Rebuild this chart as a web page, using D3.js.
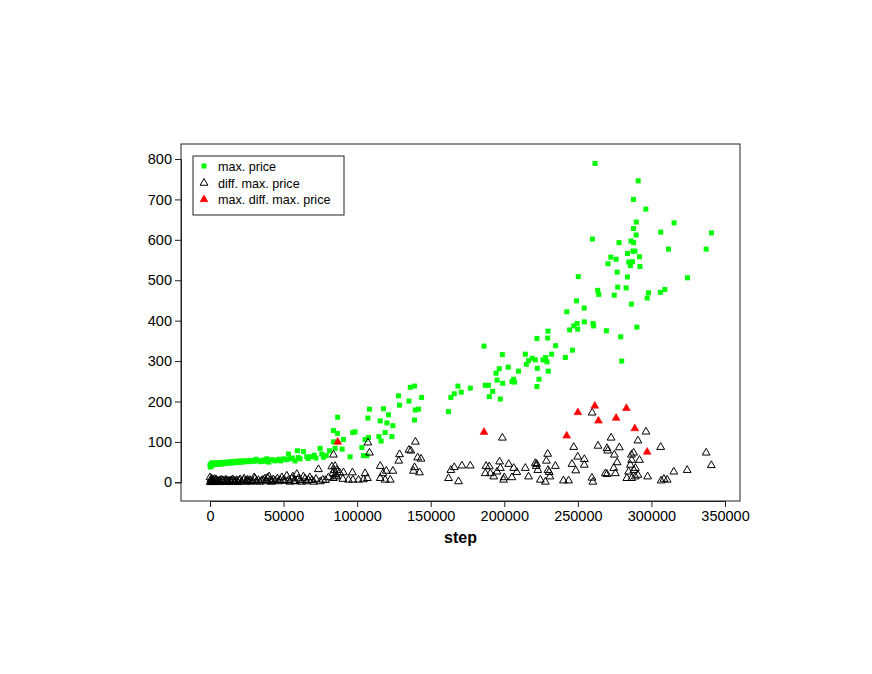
<!DOCTYPE html>
<html><head><meta charset="utf-8">
<script src="https://cdn.jsdelivr.net/npm/d3@7"></script>
<style>body{margin:0;background:#fff;} svg{display:block;}</style>
</head><body>
<svg id="c" width="872" height="674"></svg>
<script>
const xTicks = [0,50000,100000,150000,200000,250000,300000,350000];
const yTicks = [0,100,200,300,400,500,600,700,800];
const legendLabels = ["max. price","diff. max. price","max. diff. max. price"];

const maxPriceStep = [0,470,800,1200,1800,2500,3400,4500,5500,6800,8000,9000,10200,12000,13600,15000,17000,18500,20400,22000,23800,25500,27200,29000,31300,34500,38600,40000,45400,48100,50300,53300,54400,57800,59400,61200,63500,65800,68500,70800,74800,77100,81200,83900,86600,86800,86200,83900,90700,89800,85000,95200,97100,98600,103200,104300,106600,105400,107700,107300,108400,115700,117900,120200,121300,124300,114800,116300,119000,123600,128100,128800,135200,136100,139000,143800,139500,141700,139000,162100,163700,166000,168500,170700,176900,186200,187100,189300,189800,192100,194400,195100,196600,197300,198700,198900,202700,205200,206300,207000,209700,214300,215000,216500,219000,221100,222200,222400,223600,222200,226300,228100,229000,229500,229700,229900,232200,234900,241500,246300,244400,247200,249500,249900,254400,260300,260700,269400,261700,291000,287800,296200,289700,287800,289600,315400,306300,340800,337200,259900,278000,286100,287900,283700,287400,288800,311600,291900,272400,276000,270500,284600,287100,285700,292200,276700,324500,250300,283700,298000,297100,306100,309100,277100,282800,263500,264200,274700,286400,249100,254300,242500,290100,279100,279800,
  300,600,900,1500,2000,2800,3800,5000,6000,7500,8500,9500,11000,12800,14200,16000,17800,19500,21000,22800,24500,26500,28000,30000,32000,33500,36000,37500,42000,44000,47000,52000,56000,60000,66800,72000,76000,79000];
const maxPriceValue = [42,40,44,47,45,46,48,47,48,49,48,49,50,49,51,50,52,51,53,52,53,53,54,54,57,51,58,50,55,53,58,70,58,53,78,58,76,63,63,67,84,62,78,128,121,161,100,100,106,82,84,63,123,125,86,66,66,106,111,159,181,152,182,147,167,140,113,102,123,113,214,191,201,235,238,210,179,181,154,175,210,219,238,223,233,337,240,240,212,225,270,253,281,206,316,245,285,249,255,248,275,317,292,301,307,303,356,282,255,237,303,309,298,357,374,275,317,338,309,327,377,387,393,379,397,393,387,375,789,746,700,676,644,628,612,642,619,617,577,602,593,597,593,566,572,572,577,558,557,552,541,545,546,536,534,520,506,509,508,469,456,470,477,483,481,475,465,463,441,449,431,422,384,360,300,
  38,45,41,48,43,44,45,44,46,45,47,46,48,47,49,48,50,49,51,50,52,51,53,52,54,53,55,52,56,53,57,56,60,61,59,60,70,66];

const diffStep = [0,500,1100,1500,2300,3000,4500,5500,6800,8000,9100,11300,12500,13600,15900,17000,18100,20400,22700,24900,26000,27200,30600,32900,35100,37400,39000,40800,42000,44200,45800,47600,49900,52200,53300,55600,57000,59000,60100,61200,63500,64600,66900,69200,73700,76700,80500,82800,83900,84400,85300,86200,83900,85000,86200,83500,85700,88000,90700,90300,94100,96800,97100,100900,104300,105400,107000,107300,108400,115700,117500,119800,124300,115700,119000,122500,128800,128300,135200,136500,139600,141100,143400,139000,138300,142400,162100,163700,166000,168900,171200,176900,198700,187600,189800,196800,197300,187100,190500,192800,195100,199500,200000,203000,206400,208500,205200,214300,216500,221100,222000,221700,222800,224500,227900,229500,228600,229700,230500,231000,234700,240200,243700,246000,247200,248600,249900,254400,254400,259700,263700,259600,260200,268700,269800,272600,270300,274800,278200,276700,274400,275500,269800,296300,290800,287900,286400,291900,286600,285700,289100,284500,290800,286600,283300,288000,289000,297400,306300,315200,324300,310700,306600,308500,337200,340700,
  200,700,1300,2000,2700,3600,4000,5000,6000,7300,8500,9600,10500,11800,13000,14400,15300,16400,17600,19000,19800,21500,23200,24300,25600,28000,29000,30000,31500,33800,36000,38000,40200,41500,43000,46500,48800,51000,54300,56300,58000,62200,65600,67800,70500,72000,75000,78500];
const diffValue = [12,3,9,2,5,8,5,3,5,6,4,5,3,4,5,3,5,7,5,4,2,5,9,5,4,9,11,5,2,4,9,5,5,16,5,9,3,20,9,5,14,9,5,5,32,6,12,39,68,30,20,14,10,40,30,22,16,24,24,8,6,24,6,6,7,22,10,98,73,40,22,28,28,10,6,6,69,53,80,78,100,61,58,37,28,24,10,30,37,2,41,41,110,40,39,51,35,22,22,14,26,6,12,45,35,25,12,35,14,47,45,40,30,6,1,70,53,30,25,14,40,4,4,45,87,29,63,57,43,172,90,11,1,22,84,110,78,68,86,49,35,22,20,125,103,73,68,55,55,43,35,26,18,10,10,30,14,14,87,26,30,6,4,8,73,42,
  0,6,1,4,0,3,7,1,2,0,3,1,6,2,0,3,7,1,2,0,4,2,9,1,6,1,3,12,2,1,6,2,14,1,7,2,12,3,1,14,2,1,2,12,1,8,2,5];

const maxDiffStep = [86800,186200,242400,250000,261500,264000,276000,283000,288700,297100];
const maxDiffValue = [100,124,115,173,189,152,159,183,133,75];

const svg = d3.select("#c");
const x = d3.scaleLinear().domain([0,350000]).range([210,725]);
const y = d3.scaleLinear().domain([0,800]).range([482.3,159]);
const box = {l:181,t:144,r:740,b:501};
const font = "'Liberation Sans', Arial, Helvetica, sans-serif";
const axisColor = "#222";

// triangle path (R pch 2 style, centroid-centred)
const triR = 4.5, triXc = 3.9;
const triPath = `M0,${-triR}L${triXc},${triR/2}L${-triXc},${triR/2}Z`;

const green = maxPriceStep.map((s,i)=>({s, v:maxPriceValue[i]}));
const diff = diffStep.map((s,i)=>({s, v:diffValue[i]}));
const red = maxDiffStep.map((s,i)=>({s, v:maxDiffValue[i]}));

svg.append("g").selectAll("rect").data(green).enter().append("rect")
  .attr("x", d=>x(d.s)-2.5).attr("y", d=>y(d.v)-2.5)
  .attr("width",5).attr("height",5).attr("fill","#00ff00");

svg.append("g").selectAll("path").data(diff).enter().append("path")
  .attr("d", triPath).attr("transform", d=>`translate(${x(d.s)},${y(d.v)})`)
  .attr("fill","none").attr("stroke","#000").attr("stroke-width",1);

svg.append("g").selectAll("path").data(red).enter().append("path")
  .attr("d", triPath).attr("transform", d=>`translate(${x(d.s)},${y(d.v)})`)
  .attr("fill","#ff0000").attr("stroke","#ff0000").attr("stroke-width",0.6);

svg.append("rect").attr("x",box.l).attr("y",box.t).attr("width",box.r-box.l).attr("height",box.b-box.t)
  .attr("fill","none").attr("stroke",axisColor).attr("stroke-width",1);

const xAxis = d3.axisBottom(x).tickValues(xTicks).tickFormat(d3.format("d")).tickSize(6).tickPadding(4);
const gx = svg.append("g").attr("transform",`translate(0,${box.b})`).call(xAxis);
gx.select(".domain").attr("stroke",axisColor);
gx.selectAll(".tick line").attr("stroke",axisColor);
gx.selectAll("text").attr("font-family",font).attr("font-size","14.5px").attr("fill","#000");

const yAxis = d3.axisLeft(y).tickValues(yTicks).tickFormat(d3.format("d")).tickSize(6).tickPadding(3);
const gy = svg.append("g").attr("transform",`translate(${box.l},0)`).call(yAxis);
gy.select(".domain").attr("stroke",axisColor);
gy.selectAll(".tick line").attr("stroke",axisColor);
gy.selectAll("text").attr("font-family",font).attr("font-size","14.5px").attr("fill","#000");

svg.append("text").attr("x",(box.l+box.r)/2).attr("y",543)
  .attr("text-anchor","middle").attr("font-family",font).attr("font-weight","bold")
  .attr("font-size","16px").text("step");

const lg = svg.append("g");
lg.append("rect").attr("x",193).attr("y",156).attr("width",151).attr("height",59)
  .attr("fill","#fff").attr("stroke",axisColor).attr("stroke-width",1);
const rowsY = [166,183,199.5];
lg.append("rect").attr("x",204-2.5).attr("y",rowsY[0]-2.5).attr("width",5).attr("height",5).attr("fill","#00ff00");
lg.append("path").attr("d",triPath).attr("transform",`translate(204,${rowsY[1]})`).attr("fill","none").attr("stroke","#000");
lg.append("path").attr("d",triPath).attr("transform",`translate(204,${rowsY[2]})`).attr("fill","#ff0000").attr("stroke","#ff0000").attr("stroke-width",0.6);
legendLabels.forEach((t,i)=>{
  lg.append("text").attr("x",218).attr("y",rowsY[i]+4.5).attr("font-family",font).attr("font-size","12.6px").text(t);
});
</script>
</body></html>
